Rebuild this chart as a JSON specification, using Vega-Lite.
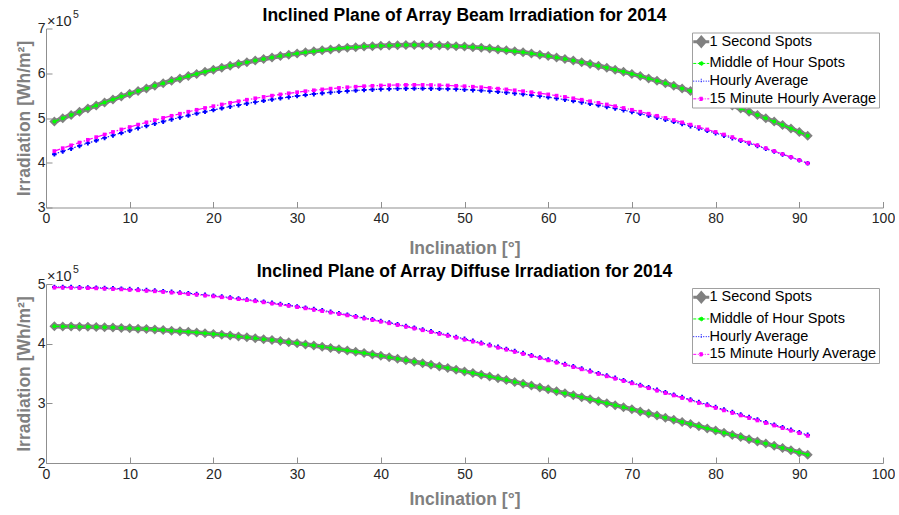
{
"$schema": "https://vega.github.io/schema/vega-lite/v6.json",
"background": "white",
"padding": {"left": 15, "top": 6.5, "right": 0, "bottom": 0},
"spacing": 4.5,
"config": {
  "view": {"stroke": null},
  "font": "Liberation Sans",
  "title": {"fontSize": 17.5, "fontWeight": "bold", "color": "#000000", "font": "Liberation Sans", "anchor": "middle", "frame": "group", "offset": -15},
  "axis": {"grid": false, "labelFlush": false, "domainColor": "#8f8f8f", "tickColor": "#8f8f8f", "tickSize": -6, "domainWidth": 1, "labelColor": "#262626", "labelFontSize": 14, "labelFont": "Liberation Sans", "titleColor": "#808080", "titleFontSize": 17.5, "titleFontWeight": "bold", "titleFont": "Liberation Sans"},
  "legend": {"labelLimit": 300}
},
"datasets": {
"beam": [
{"inc":1,"a":4.920,"b":4.920,"c":4.191,"d":4.261},
{"inc":2,"a":4.995,"b":4.995,"c":4.255,"d":4.325},
{"inc":3,"a":5.068,"b":5.068,"c":4.317,"d":4.389},
{"inc":4,"a":5.140,"b":5.140,"c":4.378,"d":4.451},
{"inc":5,"a":5.211,"b":5.211,"c":4.439,"d":4.512},
{"inc":6,"a":5.280,"b":5.280,"c":4.497,"d":4.572},
{"inc":7,"a":5.348,"b":5.348,"c":4.555,"d":4.631},
{"inc":8,"a":5.414,"b":5.414,"c":4.612,"d":4.688},
{"inc":9,"a":5.479,"b":5.479,"c":4.666,"d":4.744},
{"inc":10,"a":5.541,"b":5.541,"c":4.720,"d":4.798},
{"inc":11,"a":5.603,"b":5.603,"c":4.773,"d":4.852},
{"inc":12,"a":5.662,"b":5.662,"c":4.824,"d":4.903},
{"inc":13,"a":5.721,"b":5.721,"c":4.873,"d":4.953},
{"inc":14,"a":5.777,"b":5.777,"c":4.921,"d":5.002},
{"inc":15,"a":5.832,"b":5.832,"c":4.968,"d":5.049},
{"inc":16,"a":5.885,"b":5.885,"c":5.013,"d":5.095},
{"inc":17,"a":5.936,"b":5.936,"c":5.057,"d":5.140},
{"inc":18,"a":5.986,"b":5.986,"c":5.100,"d":5.183},
{"inc":19,"a":6.034,"b":6.034,"c":5.140,"d":5.224},
{"inc":20,"a":6.079,"b":6.079,"c":5.180,"d":5.264},
{"inc":21,"a":6.124,"b":6.124,"c":5.218,"d":5.302},
{"inc":22,"a":6.167,"b":6.167,"c":5.255,"d":5.339},
{"inc":23,"a":6.207,"b":6.207,"c":5.289,"d":5.374},
{"inc":24,"a":6.246,"b":6.246,"c":5.323,"d":5.408},
{"inc":25,"a":6.283,"b":6.283,"c":5.355,"d":5.440},
{"inc":26,"a":6.319,"b":6.319,"c":5.385,"d":5.471},
{"inc":27,"a":6.352,"b":6.352,"c":5.414,"d":5.499},
{"inc":28,"a":6.384,"b":6.384,"c":5.442,"d":5.527},
{"inc":29,"a":6.413,"b":6.413,"c":5.466,"d":5.552},
{"inc":30,"a":6.441,"b":6.441,"c":5.491,"d":5.576},
{"inc":31,"a":6.467,"b":6.467,"c":5.514,"d":5.599},
{"inc":32,"a":6.491,"b":6.491,"c":5.535,"d":5.619},
{"inc":33,"a":6.513,"b":6.513,"c":5.553,"d":5.639},
{"inc":34,"a":6.533,"b":6.533,"c":5.572,"d":5.656},
{"inc":35,"a":6.552,"b":6.552,"c":5.588,"d":5.672},
{"inc":36,"a":6.568,"b":6.568,"c":5.602,"d":5.687},
{"inc":37,"a":6.582,"b":6.582,"c":5.615,"d":5.699},
{"inc":38,"a":6.595,"b":6.595,"c":5.627,"d":5.710},
{"inc":39,"a":6.606,"b":6.606,"c":5.636,"d":5.719},
{"inc":40,"a":6.615,"b":6.615,"c":5.644,"d":5.727},
{"inc":41,"a":6.621,"b":6.621,"c":5.650,"d":5.732},
{"inc":42,"a":6.626,"b":6.626,"c":5.656,"d":5.737},
{"inc":43,"a":6.629,"b":6.629,"c":5.658,"d":5.739},
{"inc":44,"a":6.630,"b":6.630,"c":5.660,"d":5.740},
{"inc":45,"a":6.629,"b":6.629,"c":5.660,"d":5.739},
{"inc":46,"a":6.626,"b":6.626,"c":5.658,"d":5.737},
{"inc":47,"a":6.621,"b":6.621,"c":5.654,"d":5.732},
{"inc":48,"a":6.615,"b":6.615,"c":5.650,"d":5.727},
{"inc":49,"a":6.606,"b":6.606,"c":5.644,"d":5.719},
{"inc":50,"a":6.595,"b":6.595,"c":5.635,"d":5.710},
{"inc":51,"a":6.582,"b":6.582,"c":5.625,"d":5.699},
{"inc":52,"a":6.568,"b":6.568,"c":5.614,"d":5.687},
{"inc":53,"a":6.552,"b":6.552,"c":5.600,"d":5.672},
{"inc":54,"a":6.533,"b":6.533,"c":5.586,"d":5.656},
{"inc":55,"a":6.513,"b":6.513,"c":5.569,"d":5.639},
{"inc":56,"a":6.491,"b":6.491,"c":5.551,"d":5.619},
{"inc":57,"a":6.467,"b":6.467,"c":5.532,"d":5.599},
{"inc":58,"a":6.441,"b":6.441,"c":5.511,"d":5.576},
{"inc":59,"a":6.413,"b":6.413,"c":5.488,"d":5.552},
{"inc":60,"a":6.384,"b":6.384,"c":5.464,"d":5.527},
{"inc":61,"a":6.352,"b":6.352,"c":5.438,"d":5.499},
{"inc":62,"a":6.319,"b":6.319,"c":5.411,"d":5.471},
{"inc":63,"a":6.283,"b":6.283,"c":5.381,"d":5.440},
{"inc":64,"a":6.246,"b":6.246,"c":5.351,"d":5.408},
{"inc":65,"a":6.207,"b":6.207,"c":5.319,"d":5.374},
{"inc":66,"a":6.167,"b":6.167,"c":5.285,"d":5.339},
{"inc":67,"a":6.124,"b":6.124,"c":5.250,"d":5.302},
{"inc":68,"a":6.079,"b":6.079,"c":5.214,"d":5.264},
{"inc":69,"a":6.034,"b":6.034,"c":5.176,"d":5.224},
{"inc":70,"a":5.986,"b":5.986,"c":5.136,"d":5.183},
{"inc":71,"a":5.936,"b":5.936,"c":5.095,"d":5.140},
{"inc":72,"a":5.885,"b":5.885,"c":5.053,"d":5.095},
{"inc":73,"a":5.832,"b":5.832,"c":5.008,"d":5.049},
{"inc":74,"a":5.777,"b":5.777,"c":4.963,"d":5.002},
{"inc":75,"a":5.721,"b":5.721,"c":4.917,"d":4.953},
{"inc":76,"a":5.662,"b":5.662,"c":4.868,"d":4.903},
{"inc":77,"a":5.603,"b":5.603,"c":4.819,"d":4.852},
{"inc":78,"a":5.541,"b":5.541,"c":4.768,"d":4.798},
{"inc":79,"a":5.479,"b":5.479,"c":4.716,"d":4.744},
{"inc":80,"a":5.414,"b":5.414,"c":4.662,"d":4.688},
{"inc":81,"a":5.348,"b":5.348,"c":4.607,"d":4.631},
{"inc":82,"a":5.280,"b":5.280,"c":4.551,"d":4.572},
{"inc":83,"a":5.211,"b":5.211,"c":4.493,"d":4.512},
{"inc":84,"a":5.140,"b":5.140,"c":4.434,"d":4.451},
{"inc":85,"a":5.068,"b":5.068,"c":4.375,"d":4.389},
{"inc":86,"a":4.995,"b":4.995,"c":4.313,"d":4.325},
{"inc":87,"a":4.920,"b":4.920,"c":4.251,"d":4.261},
{"inc":88,"a":4.843,"b":4.843,"c":4.187,"d":4.194},
{"inc":89,"a":4.765,"b":4.765,"c":4.123,"d":4.127},
{"inc":90,"a":4.686,"b":4.686,"c":4.056,"d":4.058},
{"inc":91,"a":4.606,"b":4.606,"c":3.989,"d":3.988}
],
"diffuse": [
{"inc":1,"a":4.290,"b":4.290,"c":4.950,"d":4.940},
{"inc":2,"a":4.289,"b":4.289,"c":4.949,"d":4.939},
{"inc":3,"a":4.287,"b":4.287,"c":4.947,"d":4.937},
{"inc":4,"a":4.285,"b":4.285,"c":4.944,"d":4.934},
{"inc":5,"a":4.282,"b":4.282,"c":4.941,"d":4.931},
{"inc":6,"a":4.278,"b":4.278,"c":4.937,"d":4.927},
{"inc":7,"a":4.274,"b":4.274,"c":4.932,"d":4.922},
{"inc":8,"a":4.270,"b":4.270,"c":4.926,"d":4.916},
{"inc":9,"a":4.264,"b":4.264,"c":4.920,"d":4.910},
{"inc":10,"a":4.258,"b":4.258,"c":4.913,"d":4.903},
{"inc":11,"a":4.251,"b":4.251,"c":4.905,"d":4.895},
{"inc":12,"a":4.244,"b":4.244,"c":4.897,"d":4.887},
{"inc":13,"a":4.236,"b":4.236,"c":4.888,"d":4.878},
{"inc":14,"a":4.227,"b":4.227,"c":4.878,"d":4.868},
{"inc":15,"a":4.218,"b":4.218,"c":4.867,"d":4.857},
{"inc":16,"a":4.208,"b":4.208,"c":4.856,"d":4.846},
{"inc":17,"a":4.198,"b":4.198,"c":4.844,"d":4.833},
{"inc":18,"a":4.187,"b":4.187,"c":4.831,"d":4.821},
{"inc":19,"a":4.175,"b":4.175,"c":4.817,"d":4.807},
{"inc":20,"a":4.163,"b":4.163,"c":4.803,"d":4.793},
{"inc":21,"a":4.150,"b":4.150,"c":4.788,"d":4.778},
{"inc":22,"a":4.136,"b":4.136,"c":4.773,"d":4.762},
{"inc":23,"a":4.122,"b":4.122,"c":4.756,"d":4.746},
{"inc":24,"a":4.107,"b":4.107,"c":4.739,"d":4.729},
{"inc":25,"a":4.092,"b":4.092,"c":4.722,"d":4.711},
{"inc":26,"a":4.076,"b":4.076,"c":4.703,"d":4.693},
{"inc":27,"a":4.060,"b":4.060,"c":4.684,"d":4.674},
{"inc":28,"a":4.043,"b":4.043,"c":4.665,"d":4.654},
{"inc":29,"a":4.025,"b":4.025,"c":4.644,"d":4.634},
{"inc":30,"a":4.007,"b":4.007,"c":4.623,"d":4.613},
{"inc":31,"a":3.988,"b":3.988,"c":4.602,"d":4.592},
{"inc":32,"a":3.969,"b":3.969,"c":4.580,"d":4.569},
{"inc":33,"a":3.949,"b":3.949,"c":4.557,"d":4.546},
{"inc":34,"a":3.929,"b":3.929,"c":4.533,"d":4.523},
{"inc":35,"a":3.908,"b":3.908,"c":4.509,"d":4.499},
{"inc":36,"a":3.886,"b":3.886,"c":4.485,"d":4.474},
{"inc":37,"a":3.864,"b":3.864,"c":4.459,"d":4.449},
{"inc":38,"a":3.842,"b":3.842,"c":4.433,"d":4.423},
{"inc":39,"a":3.819,"b":3.819,"c":4.407,"d":4.396},
{"inc":40,"a":3.796,"b":3.796,"c":4.380,"d":4.369},
{"inc":41,"a":3.772,"b":3.772,"c":4.352,"d":4.342},
{"inc":42,"a":3.747,"b":3.747,"c":4.324,"d":4.313},
{"inc":43,"a":3.722,"b":3.722,"c":4.295,"d":4.285},
{"inc":44,"a":3.697,"b":3.697,"c":4.266,"d":4.255},
{"inc":45,"a":3.671,"b":3.671,"c":4.236,"d":4.225},
{"inc":46,"a":3.645,"b":3.645,"c":4.206,"d":4.195},
{"inc":47,"a":3.618,"b":3.618,"c":4.175,"d":4.164},
{"inc":48,"a":3.591,"b":3.591,"c":4.144,"d":4.133},
{"inc":49,"a":3.563,"b":3.563,"c":4.112,"d":4.101},
{"inc":50,"a":3.535,"b":3.535,"c":4.080,"d":4.068},
{"inc":51,"a":3.507,"b":3.507,"c":4.047,"d":4.036},
{"inc":52,"a":3.478,"b":3.478,"c":4.014,"d":4.002},
{"inc":53,"a":3.449,"b":3.449,"c":3.980,"d":3.968},
{"inc":54,"a":3.419,"b":3.419,"c":3.946,"d":3.934},
{"inc":55,"a":3.389,"b":3.389,"c":3.911,"d":3.900},
{"inc":56,"a":3.359,"b":3.359,"c":3.876,"d":3.864},
{"inc":57,"a":3.328,"b":3.328,"c":3.840,"d":3.829},
{"inc":58,"a":3.297,"b":3.297,"c":3.804,"d":3.793},
{"inc":59,"a":3.265,"b":3.265,"c":3.768,"d":3.757},
{"inc":60,"a":3.234,"b":3.234,"c":3.732,"d":3.720},
{"inc":61,"a":3.201,"b":3.201,"c":3.695,"d":3.683},
{"inc":62,"a":3.169,"b":3.169,"c":3.657,"d":3.646},
{"inc":63,"a":3.136,"b":3.136,"c":3.619,"d":3.608},
{"inc":64,"a":3.103,"b":3.103,"c":3.581,"d":3.570},
{"inc":65,"a":3.070,"b":3.070,"c":3.543,"d":3.531},
{"inc":66,"a":3.036,"b":3.036,"c":3.504,"d":3.492},
{"inc":67,"a":3.003,"b":3.003,"c":3.465,"d":3.453},
{"inc":68,"a":2.969,"b":2.969,"c":3.426,"d":3.414},
{"inc":69,"a":2.934,"b":2.934,"c":3.386,"d":3.375},
{"inc":70,"a":2.900,"b":2.900,"c":3.347,"d":3.335},
{"inc":71,"a":2.865,"b":2.865,"c":3.307,"d":3.295},
{"inc":72,"a":2.830,"b":2.830,"c":3.266,"d":3.254},
{"inc":73,"a":2.795,"b":2.795,"c":3.226,"d":3.214},
{"inc":74,"a":2.759,"b":2.759,"c":3.185,"d":3.173},
{"inc":75,"a":2.724,"b":2.724,"c":3.144,"d":3.132},
{"inc":76,"a":2.688,"b":2.688,"c":3.103,"d":3.090},
{"inc":77,"a":2.652,"b":2.652,"c":3.061,"d":3.049},
{"inc":78,"a":2.616,"b":2.616,"c":3.020,"d":3.007},
{"inc":79,"a":2.580,"b":2.580,"c":2.978,"d":2.966},
{"inc":80,"a":2.544,"b":2.544,"c":2.936,"d":2.924},
{"inc":81,"a":2.508,"b":2.508,"c":2.894,"d":2.882},
{"inc":82,"a":2.471,"b":2.471,"c":2.852,"d":2.840},
{"inc":83,"a":2.435,"b":2.435,"c":2.810,"d":2.797},
{"inc":84,"a":2.398,"b":2.398,"c":2.768,"d":2.755},
{"inc":85,"a":2.361,"b":2.361,"c":2.726,"d":2.713},
{"inc":86,"a":2.325,"b":2.325,"c":2.683,"d":2.670},
{"inc":87,"a":2.288,"b":2.288,"c":2.641,"d":2.628},
{"inc":88,"a":2.251,"b":2.251,"c":2.598,"d":2.585},
{"inc":89,"a":2.214,"b":2.214,"c":2.556,"d":2.543},
{"inc":90,"a":2.177,"b":2.177,"c":2.513,"d":2.500},
{"inc":91,"a":2.140,"b":2.140,"c":2.470,"d":2.457}
]
},
"resolve": {"scale": {"color": "independent"}, "legend": {"color": "independent"}},
"vconcat": [
{
  "width": 837, "height": 179,
  "title": {"text": "Inclined Plane of Array Beam Irradiation for 2014"},
  "layer": [
    {
      "data": {"name": "beam"},
      "transform": [{"fold": ["a", "b", "c", "d"], "as": ["series", "irr"]}],
      "encoding": {
        "x": {"field": "inc", "type": "quantitative", "scale": {"domain": [0, 100], "nice": false}, "axis": {"values": [0,10,20,30,40,50,60,70,80,90,100], "format": "d", "title": "Inclination [°]", "labelPadding": 10, "titlePadding": 14}},
        "y": {"field": "irr", "type": "quantitative", "scale": {"domain": [3, 7], "nice": false, "zero": false}, "axis": {"values": [3,4,5,6,7], "format": "d", "title": "Irradiation [Wh/m²]", "labelPadding": 7, "titlePadding": 4}},
        "color": {"field": "series", "type": "nominal", "scale": {"domain": ["a","b","c","d"], "range": ["#808080","#00ff00","#0000ff","#ff00ff"]},
          "legend": {"title": null, "orient": "top-right", "offset": 4, "fillColor": "white", "strokeColor": "#a0a0a0", "padding": 2, "symbolSize": 256, "rowPadding": 2.7, "labelOffset": 1, "labelFontSize": 14.5, "labelColor": "#000000", "labelFont": "Liberation Sans", "symbolStrokeWidth": 1,
            "labelExpr": "datum.label === 'a' ? '1 Second Spots' : datum.label === 'b' ? 'Middle of Hour Spots' : datum.label === 'c' ? 'Hourly Average' : '15 Minute Hourly Average'",
            "encode": {"symbols": {
              "shape": {"signal": "datum.value === 'a' ? 'M-1,0H1M0,-0.55L0.5,0L0,0.55L-0.5,0Z' : datum.value === 'b' ? 'M-1,0H1M0.24,0A0.24,0.24,0,1,1,-0.24,0A0.24,0.24,0,1,1,0.24,0Z' : datum.value === 'c' ? 'M-1,0H1M0,-0.3V0.3' : 'M-1,0H1M-0.2,-0.2H0.2V0.2H-0.2Z'"},
              "strokeWidth": {"signal": "datum.value === 'a' ? 3 : 1"},
              "strokeDash": {"signal": "datum.value === 'b' ? [3,1.5] : datum.value === 'c' ? [1,1.5] : datum.value === 'd' ? [3,1.5,1,1.5] : [1,0]"},
              "fill": {"signal": "datum.value === 'a' ? '#808080' : datum.value === 'b' ? '#00ff00' : datum.value === 'c' ? '#0000ff' : '#ff00ff'"},
              "stroke": {"signal": "datum.value === 'a' ? '#808080' : datum.value === 'b' ? '#00ff00' : datum.value === 'c' ? '#0000ff' : '#ff00ff'"},
              "opacity": {"value": 1}, "fillOpacity": {"value": 1}, "strokeOpacity": {"value": 1},
              "update": {
                "shape": {"signal": "datum.value === 'a' ? 'M-1,0H1M0,-0.55L0.5,0L0,0.55L-0.5,0Z' : datum.value === 'b' ? 'M-1,0H1M0.24,0A0.24,0.24,0,1,1,-0.24,0A0.24,0.24,0,1,1,0.24,0Z' : datum.value === 'c' ? 'M-1,0H1M0,-0.3V0.3' : 'M-1,0H1M-0.2,-0.2H0.2V0.2H-0.2Z'"},
                "strokeWidth": {"signal": "datum.value === 'a' ? 3 : 1"},
                "strokeDash": {"signal": "datum.value === 'b' ? [3,1.5] : datum.value === 'c' ? [1,1.5] : datum.value === 'd' ? [3,1.5,1,1.5] : [1,0]"},
                "fill": {"signal": "datum.value === 'a' ? '#808080' : datum.value === 'b' ? '#00ff00' : datum.value === 'c' ? '#0000ff' : '#ff00ff'"},
                "stroke": {"signal": "datum.value === 'a' ? '#808080' : datum.value === 'b' ? '#00ff00' : datum.value === 'c' ? '#0000ff' : '#ff00ff'"},
                "opacity": {"value": 1}, "fillOpacity": {"value": 1}, "strokeOpacity": {"value": 1}
              }
            }}}
        }
      },
      "layer": [
        {"transform": [{"filter": "datum.series === 'a'"}], "mark": {"type": "line", "strokeWidth": 4.5}, "encoding": {}},
        {"transform": [{"filter": "datum.series === 'a'"}], "mark": {"type": "point", "filled": true, "opacity": 1, "shape": "diamond", "size": 100}, "encoding": {}},
        {"transform": [{"filter": "datum.series === 'b'"}], "mark": {"type": "line", "strokeWidth": 1.4, "strokeDash": [5, 3]}, "encoding": {}},
        {"transform": [{"filter": "datum.series === 'b'"}], "mark": {"type": "point", "filled": true, "opacity": 1, "shape": "circle", "size": 16}, "encoding": {}},
        {"transform": [{"filter": "datum.series === 'c'"}], "mark": {"type": "line", "strokeWidth": 1.1, "strokeDash": [1.5, 2]}, "encoding": {}},
        {"transform": [{"filter": "datum.series === 'c'"}], "mark": {"type": "point", "filled": true, "opacity": 1, "shape": "cross", "size": 22}, "encoding": {}},
        {"transform": [{"filter": "datum.series === 'd'"}], "mark": {"type": "line", "strokeWidth": 1.2, "strokeDash": [6, 2, 1.5, 2]}, "encoding": {}},
        {"transform": [{"filter": "datum.series === 'd'"}], "mark": {"type": "point", "filled": true, "opacity": 1, "shape": "square", "size": 14}, "encoding": {}}
      ]
    },
    {"data": {"values": [{"t": "×10"}]},
      "mark": {"type": "text", "align": "left", "baseline": "alphabetic", "dx": 1, "dy": -3, "fontSize": 14.5, "color": "#262626", "font": "Liberation Sans"},
      "encoding": {"x": {"datum": 0, "type": "quantitative"}, "y": {"datum": 7, "type": "quantitative"}, "text": {"field": "t"}}},
    {"data": {"values": [{"t": "5"}]},
      "mark": {"type": "text", "align": "left", "baseline": "alphabetic", "dx": 27, "dy": -11, "fontSize": 10.5, "color": "#262626", "font": "Liberation Sans"},
      "encoding": {"x": {"datum": 0, "type": "quantitative"}, "y": {"datum": 7, "type": "quantitative"}, "text": {"field": "t"}}}
  ]
},
{
  "width": 837, "height": 179,
  "title": {"text": "Inclined Plane of Array Diffuse Irradiation for 2014"},
  "layer": [
    {
      "data": {"name": "diffuse"},
      "transform": [{"fold": ["a", "b", "c", "d"], "as": ["series", "irr"]}],
      "encoding": {
        "x": {"field": "inc", "type": "quantitative", "scale": {"domain": [0, 100], "nice": false}, "axis": {"values": [0,10,20,30,40,50,60,70,80,90,100], "format": "d", "title": "Inclination [°]", "labelPadding": 10, "titlePadding": 9.5}},
        "y": {"field": "irr", "type": "quantitative", "scale": {"domain": [2, 5], "nice": false, "zero": false}, "axis": {"values": [2,3,4,5], "format": "d", "title": "Irradiation [Wh/m²]", "labelPadding": 7, "titlePadding": 4}},
        "color": {"field": "series", "type": "nominal", "scale": {"domain": ["a","b","c","d"], "range": ["#808080","#00ff00","#0000ff","#ff00ff"]},
          "legend": {"title": null, "orient": "top-right", "offset": 4, "fillColor": "white", "strokeColor": "#a0a0a0", "padding": 2, "symbolSize": 256, "rowPadding": 2.7, "labelOffset": 1, "labelFontSize": 14.5, "labelColor": "#000000", "labelFont": "Liberation Sans", "symbolStrokeWidth": 1,
            "labelExpr": "datum.label === 'a' ? '1 Second Spots' : datum.label === 'b' ? 'Middle of Hour Spots' : datum.label === 'c' ? 'Hourly Average' : '15 Minute Hourly Average'",
            "encode": {"symbols": {
              "shape": {"signal": "datum.value === 'a' ? 'M-1,0H1M0,-0.55L0.5,0L0,0.55L-0.5,0Z' : datum.value === 'b' ? 'M-1,0H1M0.24,0A0.24,0.24,0,1,1,-0.24,0A0.24,0.24,0,1,1,0.24,0Z' : datum.value === 'c' ? 'M-1,0H1M0,-0.3V0.3' : 'M-1,0H1M-0.2,-0.2H0.2V0.2H-0.2Z'"},
              "strokeWidth": {"signal": "datum.value === 'a' ? 3 : 1"},
              "strokeDash": {"signal": "datum.value === 'b' ? [3,1.5] : datum.value === 'c' ? [1,1.5] : datum.value === 'd' ? [3,1.5,1,1.5] : [1,0]"},
              "fill": {"signal": "datum.value === 'a' ? '#808080' : datum.value === 'b' ? '#00ff00' : datum.value === 'c' ? '#0000ff' : '#ff00ff'"},
              "stroke": {"signal": "datum.value === 'a' ? '#808080' : datum.value === 'b' ? '#00ff00' : datum.value === 'c' ? '#0000ff' : '#ff00ff'"},
              "opacity": {"value": 1}, "fillOpacity": {"value": 1}, "strokeOpacity": {"value": 1},
              "update": {
                "shape": {"signal": "datum.value === 'a' ? 'M-1,0H1M0,-0.55L0.5,0L0,0.55L-0.5,0Z' : datum.value === 'b' ? 'M-1,0H1M0.24,0A0.24,0.24,0,1,1,-0.24,0A0.24,0.24,0,1,1,0.24,0Z' : datum.value === 'c' ? 'M-1,0H1M0,-0.3V0.3' : 'M-1,0H1M-0.2,-0.2H0.2V0.2H-0.2Z'"},
                "strokeWidth": {"signal": "datum.value === 'a' ? 3 : 1"},
                "strokeDash": {"signal": "datum.value === 'b' ? [3,1.5] : datum.value === 'c' ? [1,1.5] : datum.value === 'd' ? [3,1.5,1,1.5] : [1,0]"},
                "fill": {"signal": "datum.value === 'a' ? '#808080' : datum.value === 'b' ? '#00ff00' : datum.value === 'c' ? '#0000ff' : '#ff00ff'"},
                "stroke": {"signal": "datum.value === 'a' ? '#808080' : datum.value === 'b' ? '#00ff00' : datum.value === 'c' ? '#0000ff' : '#ff00ff'"},
                "opacity": {"value": 1}, "fillOpacity": {"value": 1}, "strokeOpacity": {"value": 1}
              }
            }}}
        }
      },
      "layer": [
        {"transform": [{"filter": "datum.series === 'a'"}], "mark": {"type": "line", "strokeWidth": 4.5}, "encoding": {}},
        {"transform": [{"filter": "datum.series === 'a'"}], "mark": {"type": "point", "filled": true, "opacity": 1, "shape": "diamond", "size": 100}, "encoding": {}},
        {"transform": [{"filter": "datum.series === 'b'"}], "mark": {"type": "line", "strokeWidth": 1.4, "strokeDash": [5, 3]}, "encoding": {}},
        {"transform": [{"filter": "datum.series === 'b'"}], "mark": {"type": "point", "filled": true, "opacity": 1, "shape": "circle", "size": 16}, "encoding": {}},
        {"transform": [{"filter": "datum.series === 'c'"}], "mark": {"type": "line", "strokeWidth": 1.1, "strokeDash": [1.5, 2]}, "encoding": {}},
        {"transform": [{"filter": "datum.series === 'c'"}], "mark": {"type": "point", "filled": true, "opacity": 1, "shape": "cross", "size": 22}, "encoding": {}},
        {"transform": [{"filter": "datum.series === 'd'"}], "mark": {"type": "line", "strokeWidth": 1.2, "strokeDash": [6, 2, 1.5, 2]}, "encoding": {}},
        {"transform": [{"filter": "datum.series === 'd'"}], "mark": {"type": "point", "filled": true, "opacity": 1, "shape": "square", "size": 14}, "encoding": {}}
      ]
    },
    {"data": {"values": [{"t": "×10"}]},
      "mark": {"type": "text", "align": "left", "baseline": "alphabetic", "dx": 1, "dy": -3, "fontSize": 14.5, "color": "#262626", "font": "Liberation Sans"},
      "encoding": {"x": {"datum": 0, "type": "quantitative"}, "y": {"datum": 5, "type": "quantitative"}, "text": {"field": "t"}}},
    {"data": {"values": [{"t": "5"}]},
      "mark": {"type": "text", "align": "left", "baseline": "alphabetic", "dx": 27, "dy": -11, "fontSize": 10.5, "color": "#262626", "font": "Liberation Sans"},
      "encoding": {"x": {"datum": 0, "type": "quantitative"}, "y": {"datum": 5, "type": "quantitative"}, "text": {"field": "t"}}}
  ]
}
]
}
